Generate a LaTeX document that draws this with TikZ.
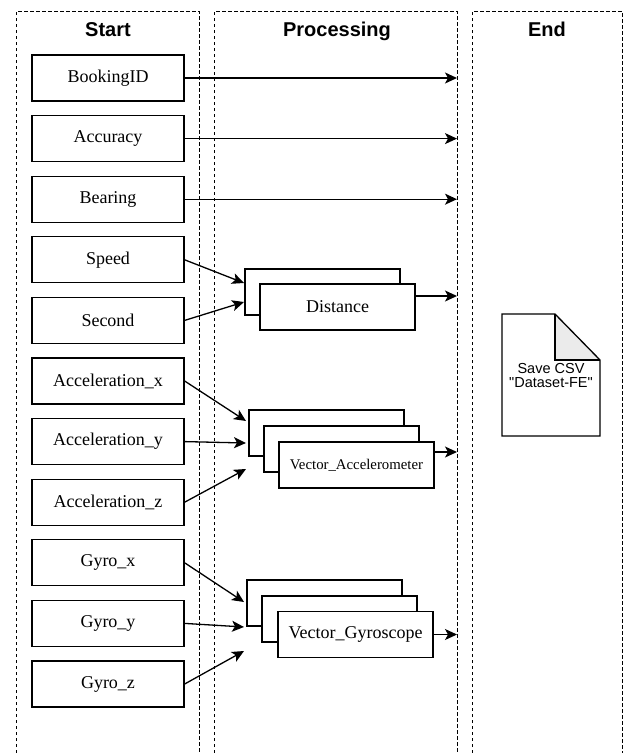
\documentclass[tikz,border=0pt]{standalone}
\usepackage{fontspec}
\setmainfont{Liberation Serif}
\newfontfamily\lanefont{Liberation Sans}
\usetikzlibrary{arrows.meta, positioning}
\definecolor{foldgray}{RGB}{235,235,235}

\begin{document}
\begin{tikzpicture}[x=1pt, y=-1pt,
  lane/.style={draw, line width=0.9pt, dash pattern=on 3.5pt off 2.5pt},
  lanetitle/.style={anchor=base, font=\lanefont\bfseries\fontsize{20}{22}\selectfont},
  fieldbox/.style={draw, fill=white, line width=1.3pt, minimum width=152pt, minimum height=46pt, inner sep=0pt, font=\fontsize{18}{20}\selectfont},
  stackbox/.style={fieldbox, minimum width=155pt},
  flow/.style={-{Stealth[length=12pt, width=11pt, inset=3pt]}, line width=1.3pt}]
\useasboundingbox (0,0) rectangle (624,753);

% Draw the three lanes
\draw[lane] (16,753) -- (16,11) -- (199,11) -- (199,753);
\draw[lane] (214,753) -- (214,11) -- (457,11) -- (457,753);
\draw[lane] (472,753) -- (472,11) -- (622,11) -- (622,753);
\coordinate (procend) at (457,0);

% Lane titles
\node[lanetitle] (tstart) at (108,36.5) {Start};
\node[lanetitle] (tproc) at (337,36.5) {Processing};
\node[lanetitle] (tend) at (547,36.5) {End};

% Input fields
\node[fieldbox] (booking) at (108,78) {BookingID};
\node[fieldbox] (accuracy) at (108,138.6) {Accuracy};
\node[fieldbox] (bearing) at (108,199.2) {Bearing};
\node[fieldbox] (speed) at (108,259.8) {Speed};
\node[fieldbox] (second) at (108,320.4) {Second};
\node[fieldbox] (accx) at (108,381) {Acceleration\_x};
\node[fieldbox] (accy) at (108,441.6) {Acceleration\_y};
\node[fieldbox] (accz) at (108,502.2) {Acceleration\_z};
\node[fieldbox] (gyrox) at (108,562.8) {Gyro\_x};
\node[fieldbox] (gyroy) at (108,623.4) {Gyro\_y};
\node[fieldbox] (gyroz) at (108,684) {Gyro\_z};

% Processing stacks
\node[stackbox] (distback) at (322.5,292) {};
\node[stackbox] (dist) at (337.5,307) {Distance};
\node[stackbox] (accback) at (326.5,433) {};
\node[stackbox] (accmid) at (341.5,449) {};
\node[stackbox, font=\fontsize{14.8}{16}\selectfont] (acc) at (356.5,465) {Vector\_Accelerometer};
\node[stackbox] (gyroback) at (324.5,603) {};
\node[stackbox] (gyromid) at (339.5,619) {};
\node[stackbox] (gyro) at (355.5,634.5) {Vector\_Gyroscope};

% Output file
\fill[white] (502,314) -- (555,314) -- (600,360) -- (600,436) -- (502,436) -- cycle;
\fill[foldgray] (555,314) -- (555,360) -- (600,360) -- cycle;
\draw[line width=1.3pt, line join=miter] (502,314) -- (555,314) -- (600,360) -- (600,436) -- (502,436) -- cycle;
\draw[line width=1.3pt] (555,314) -- (555,360) -- (600,360);
\node[font=\lanefont\fontsize{14.5}{14}\selectfont, align=center] (csv) at (551,375.5) {Save CSV\\"Dataset-FE"};

% Straight through
\draw[flow] (booking.east) -- (booking.east -| procend);
\draw[flow] (accuracy.east) -- (accuracy.east -| procend);
\draw[flow] (bearing.east) -- (bearing.east -| procend);

% Into the stacks
\coordinate (distin1) at (244,283);
\coordinate (distin2) at (244,302);
\draw[flow] (speed.east) -- (distin1);
\draw[flow] (second.east) -- (distin2);
\coordinate (accin1) at (246,421);
\coordinate (accin2) at (246,443);
\coordinate (accin3) at (246,469);
\draw[flow] (accx.east) -- (accin1);
\draw[flow] (accy.east) -- (accin2);
\draw[flow] (accz.east) -- (accin3);
\coordinate (gyroin1) at (244,602);
\coordinate (gyroin2) at (244,627);
\coordinate (gyroin3) at (244,651);
\draw[flow] (gyrox.east) -- (gyroin1);
\draw[flow] (gyroy.east) -- (gyroin2);
\draw[flow] (gyroz.east) -- (gyroin3);

% Out of the stacks
\coordinate (distout) at (416,296);
\coordinate (accout) at (435,452);
\draw[flow] (distout) -- (distout -| procend);
\draw[flow] (accout) -- (accout -| procend);
\draw[flow] (gyro.east) -- (gyro.east -| procend);
\end{tikzpicture}
\end{document}
